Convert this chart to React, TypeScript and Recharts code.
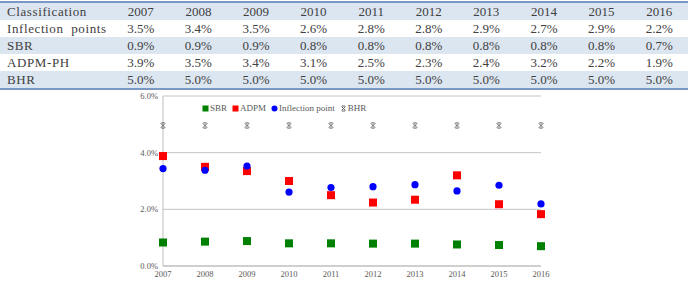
import React from 'react'
import {
  ScatterChart,
  Scatter,
  XAxis,
  YAxis,
  CartesianGrid,
} from 'recharts'

// table values (as printed)
const years = [2007, 2008, 2009, 2010, 2011, 2012, 2013, 2014, 2015, 2016]
const tableRows = ['Inflection  points', 'SBR', 'ADPM-PH', 'BHR']
const tableInflection = [3.5, 3.4, 3.5, 2.6, 2.8, 2.8, 2.9, 2.7, 2.9, 2.2]
const tableSBR = [0.9, 0.9, 0.9, 0.8, 0.8, 0.8, 0.8, 0.8, 0.8, 0.7]
const tableADPM = [3.9, 3.5, 3.4, 3.1, 2.5, 2.3, 2.4, 3.2, 2.2, 1.9]
const tableBHR = [5.0, 5.0, 5.0, 5.0, 5.0, 5.0, 5.0, 5.0, 5.0, 5.0]

// chart values (in %)
const chartSBR = [0.83, 0.86, 0.88, 0.8, 0.8, 0.79, 0.79, 0.76, 0.74, 0.7]
const chartADPM = [3.88, 3.5, 3.35, 3.0, 2.5, 2.24, 2.34, 3.2, 2.18, 1.83]
const chartInflection = [3.44, 3.38, 3.53, 2.61, 2.77, 2.8, 2.87, 2.65, 2.85, 2.19]
const chartBHR = [4.96, 4.96, 4.96, 4.96, 4.96, 4.96, 4.96, 4.96, 4.96, 4.96]
const yTicks = [0, 2, 4, 6]

const toPoints = (vals: number[]) => vals.map((y, i) => ({ x: years[i], y }))

const Square = (color: string) => (p: any) => (
  <rect x={p.cx - 4} y={p.cy - 4} width={8} height={8} fill={color} />
)
const Dot = (color: string) => (p: any) => (
  <circle cx={p.cx} cy={p.cy} r={3.6} fill={color} />
)
const Star = (color: string) => (p: any) => (
  <g stroke={color} strokeWidth={0.9}>
    <line x1={p.cx - 2.2} y1={p.cy - 2.2} x2={p.cx + 2.2} y2={p.cy + 2.2} />
    <line x1={p.cx - 2.2} y1={p.cy + 2.2} x2={p.cx + 2.2} y2={p.cy - 2.2} />
    <line x1={p.cx - 1.6} y1={p.cy - 2.6} x2={p.cx + 1.6} y2={p.cy - 2.6} />
    <line x1={p.cx - 1.6} y1={p.cy + 2.6} x2={p.cx + 1.6} y2={p.cy + 2.6} />
  </g>
)

const series = [
  { name: 'SBR', values: chartSBR, color: '#008000', kind: 'square' },
  { name: 'ADPM', values: chartADPM, color: '#ff0000', kind: 'square' },
  { name: 'Inflection point', values: chartInflection, color: '#0000ff', kind: 'dot' },
  { name: 'BHR', values: chartBHR, color: '#505050', kind: 'star' },
]

const shapeFor = (s: { color: string; kind: string }) =>
  s.kind === 'square' ? Square(s.color) : s.kind === 'dot' ? Dot(s.color) : Star(s.color)

const LegendMark = ({ color, kind }: { color: string; kind: string }) => (
  <svg width={7} height={7} style={{ marginRight: 1 }}>
    {kind === 'square' && <rect x={0.5} y={0.5} width={6} height={6} fill={color} />}
    {kind === 'dot' && <circle cx={3.5} cy={3.5} r={3} fill={color} />}
    {kind === 'star' && (
      <g stroke={color} strokeWidth={0.9}>
        <line x1={1.5} y1={1.5} x2={5.5} y2={5.5} />
        <line x1={1.5} y1={5.5} x2={5.5} y2={1.5} />
        <line x1={2} y1={1} x2={5} y2={1} />
        <line x1={2} y1={6} x2={5} y2={6} />
      </g>
    )}
  </svg>
)

const pct = (v: number) => `${v.toFixed(1)}%`
const tableData = [tableInflection, tableSBR, tableADPM, tableBHR]

const cell: React.CSSProperties = {
  textAlign: 'center',
  padding: 0,
  height: 17,
  lineHeight: '17px',
}

export default function App() {
  return (
    <div
      style={{
        position: 'fixed',
        left: 0,
        top: 0,
        width: 688,
        height: 288,
        background: '#fff',
        overflow: 'hidden',
      }}
    >
      <table
        style={{
          position: 'absolute',
          top: 1,
          left: 0,
          width: 688,
          tableLayout: 'fixed',
          borderCollapse: 'collapse',
          borderTop: '2px solid #7b97c4',
          borderBottom: '2px solid #7b97c4',
          fontFamily: '"Liberation Serif", serif',
          fontSize: 13,
          color: '#404040',
        }}
      >
        <colgroup>
          <col style={{ width: 112 }} />
          {years.map((y) => (
            <col key={y} style={{ width: 57.6 }} />
          ))}
        </colgroup>
        <tbody>
          <tr style={{ background: '#dce6f1' }}>
            <td style={{ ...cell, textAlign: 'left', paddingLeft: 7, letterSpacing: 0.6 }}>
              Classification
            </td>
            {years.map((y) => (
              <td key={y} style={cell}>
                {y}
              </td>
            ))}
          </tr>
          {tableRows.map((label, r) => (
            <tr key={label} style={{ background: r % 2 === 1 ? '#dce6f1' : '#fff' }}>
              <td
                style={{
                  ...cell,
                  textAlign: 'left',
                  paddingLeft: 7,
                  letterSpacing: 0.6,
                  whiteSpace: 'pre',
                }}
              >
                {label}
              </td>
              {tableData[r].map((v, i) => (
                <td key={i} style={cell}>
                  {pct(v)}
                </td>
              ))}
            </tr>
          ))}
        </tbody>
      </table>

      <div style={{ position: 'absolute', top: 90, left: 0, width: 688, height: 198 }}>
        <ScatterChart
          width={688}
          height={198}
          margin={{ top: 6, right: 147, left: 118, bottom: 4 }}
        >
          <CartesianGrid vertical={false} stroke="#c4c4c4" />
          <XAxis
            type="number"
            dataKey="x"
            domain={[2007, 2016]}
            ticks={years}
            interval={0}
            height={18}
            tickLine={false}
            tickSize={3}
            tickMargin={2}
            axisLine={{ stroke: '#bdbdbd' }}
            tick={{ fontSize: 8.5, fill: '#595959', fontFamily: '"Liberation Serif", serif' }}
          />
          <YAxis
            type="number"
            dataKey="y"
            domain={[0, 6]}
            ticks={yTicks}
            width={45}
            tickLine={false}
            tickSize={3}
            tickMargin={2}
            tickFormatter={pct}
            axisLine={{ stroke: '#bdbdbd' }}
            tick={{ fontSize: 8.5, fill: '#595959', fontFamily: '"Liberation Serif", serif' }}
          />
          {series.map((s) => (
            <Scatter
              key={s.name}
              name={s.name}
              data={toPoints(s.values)}
              fill={s.color}
              shape={shapeFor(s)}
              isAnimationActive={false}
            />
          ))}
        </ScatterChart>
        <div
          style={{
            position: 'absolute',
            top: 13,
            left: 202,
            display: 'flex',
            alignItems: 'center',
            fontFamily: '"Liberation Serif", serif',
            fontSize: 9,
            color: '#595959',
            whiteSpace: 'nowrap',
          }}
        >
          {series.map((s) => (
            <span
              key={s.name}
              style={{ display: 'flex', alignItems: 'center', marginRight: 5 }}
            >
              <LegendMark color={s.color} kind={s.kind} />
              {s.name}
            </span>
          ))}
        </div>
      </div>
    </div>
  )
}
